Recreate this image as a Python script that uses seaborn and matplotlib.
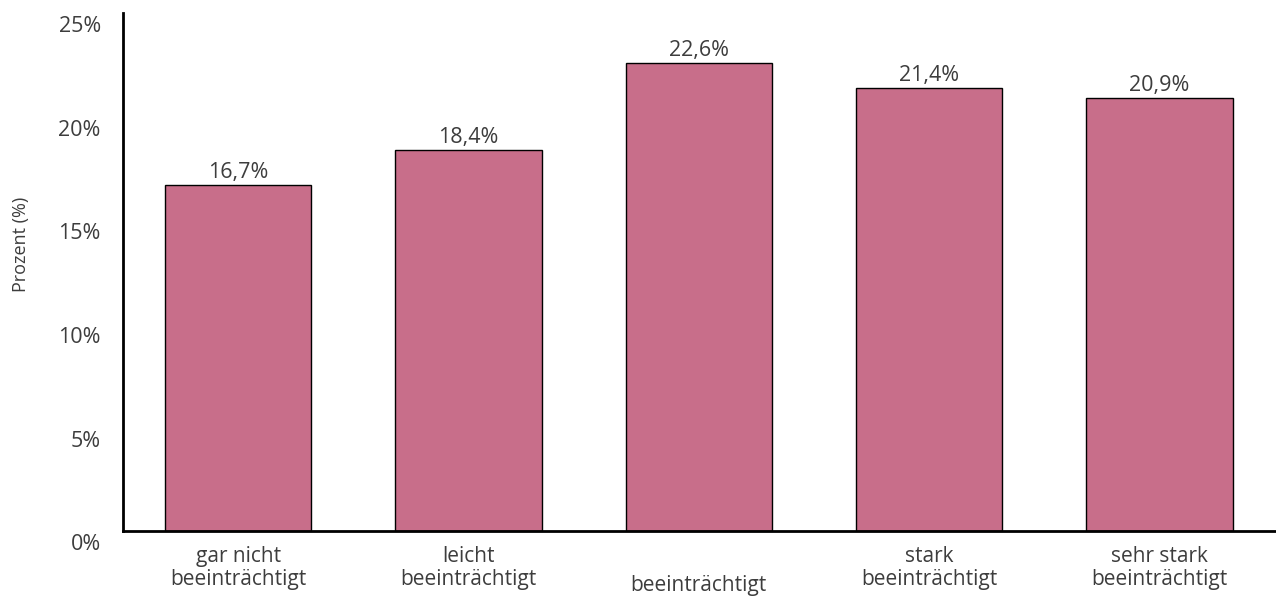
import matplotlib
matplotlib.use("Agg")
import matplotlib.pyplot as plt
import matplotlib.transforms as mtransforms
import seaborn as sns
import pandas as pd

# data
categories = ["gar nicht\nbeeinträchtigt", "leicht\nbeeinträchtigt", "beeinträchtigt",
              "stark\nbeeinträchtigt", "sehr stark\nbeeinträchtigt"]
values = [16.7, 18.4, 22.6, 21.4, 20.9]
value_labels = ["16,7%", "18,4%", "22,6%", "21,4%", "20,9%"]
yticks = [0, 5, 10, 15, 20, 25]
ytick_labels = ["0%", "5%", "10%", "15%", "20%", "25%"]

df = pd.DataFrame({"Kategorie": categories, "Prozent": values})

sns.set_style("white")
plt.rcParams['font.family'] = ['Open Sans', 'DejaVu Sans']
text_col = "#3d3d3d"

fig = plt.figure(figsize=(12.76, 6.08), dpi=100)
ax = fig.add_axes([0.0964, 0.1266, 0.9025, 0.852])

sns.barplot(data=df, x="Kategorie", y="Prozent", color="#c86e8a", saturation=1,
            width=0.636, edgecolor="black", linewidth=1, ax=ax)

for i, (v, lab) in enumerate(zip(values, value_labels)):
    ax.text(i, v + 0.08, lab, ha="center", va="bottom", fontsize=15.5, color=text_col)

ax.set_ylim(0, 25)
ax.set_xlim(-0.5, 4.5)
ax.set_yticks(yticks)
ax.set_yticklabels(ytick_labels, fontsize=15.5, color=text_col)
ax.tick_params(axis="x", labelsize=15, labelcolor=text_col, length=0, pad=11)
ax.tick_params(axis="y", length=0, pad=16)
for lbl in ax.get_xticklabels():
    lbl.set_linespacing(1.1)
# labels sit a little lower than the ticks in the original
offset = mtransforms.ScaledTranslation(0, -8 / 72, fig.dpi_scale_trans)
for lbl in ax.get_yticklabels():
    lbl.set_transform(lbl.get_transform() + offset)
# the one-line category sits on the level of the second line
single = ax.get_xticklabels()[2]
single.set_transform(single.get_transform() +
                     mtransforms.ScaledTranslation(0, -21 / 72, fig.dpi_scale_trans))

ax.set_xlabel("")
ax.set_ylabel("Prozent (%)", fontsize=13, color=text_col)
ax.yaxis.set_label_coords(-0.081, 0.554)

sns.despine(ax=ax)
for s in ["left", "bottom"]:
    ax.spines[s].set_color("black")
    ax.spines[s].set_linewidth(2)

fig.savefig("out.png", dpi=100)
